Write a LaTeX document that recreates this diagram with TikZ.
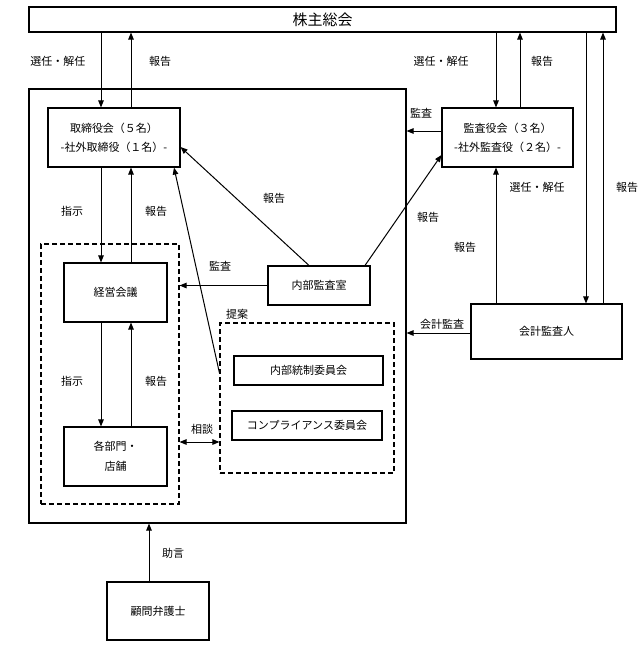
\documentclass[tikz,border=0pt]{standalone}
\usepackage{fontspec}
\setmainfont{Noto Sans CJK JP}
\usetikzlibrary{arrows.meta}
\begin{document}
\begin{tikzpicture}[x=1pt,y=-1pt,
 box/.style={draw,line width=1.1pt,inner sep=0pt,align=center,font=\fontsize{11}{19}\selectfont},
 dbox/.style={draw,dash pattern=on 5pt off 3pt,line width=1.1pt,inner sep=0pt},
 arr/.style={line width=1pt,-{Triangle[length=7pt,width=5.5pt]}},
 darr/.style={line width=1pt,{Triangle[length=7pt,width=5.5pt]}-{Triangle[length=7pt,width=5.5pt]}},
 lbl/.style={font=\fontsize{11}{13}\selectfont,inner sep=0pt}]
\useasboundingbox (0,0) rectangle (644,646);

% boxes
\node[box,minimum width=587pt,minimum height=25pt,font=\fontsize{15}{18}\selectfont] (top) at (322.5,19.5) {株主総会};
\node[box,minimum width=377pt,minimum height=434pt] (big) at (217.5,306) {};
\node[box,minimum width=132pt,minimum height=59pt] (tori) at (114,137.5) {取締役会（５名）\\-社外取締役（１名）-};
\node[dbox,minimum width=138pt,minimum height=260pt] (dashL) at (110,374) {};
\node[box,minimum width=103pt,minimum height=59pt] (keiei) at (115.5,292.5) {経営会議};
\node[box,minimum width=103pt,minimum height=59pt,font=\fontsize{11}{20}\selectfont] (kakubu) at (115.5,456.5) {各部門・\\店舗};
\node[box,minimum width=102pt,minimum height=39pt] (naibu) at (319,285.5) {内部監査室};
\node[dbox,minimum width=174pt,minimum height=150pt] (dashR) at (307,398) {};
\node[box,minimum width=149pt,minimum height=29pt] (tosei) at (308.5,370.5) {内部統制委員会};
\node[box,minimum width=150pt,minimum height=29pt] (comp) at (307,425.5) {コンプライアンス委員会};
\node[box,minimum width=131pt,minimum height=59pt] (kansa) at (507.5,137.5) {監査役会（３名）\\-社外監査役（２名）-};
\node[box,minimum width=151pt,minimum height=55pt] (kaikei) at (546.5,331.5) {会計監査人};
\node[box,minimum width=102pt,minimum height=58pt] (komon) at (158,611) {顧問弁護士};

% helper coordinates
\coordinate (x101) at (101,0);
\coordinate (x131) at (131,0);
\coordinate (x149) at (149,0);
\coordinate (x174) at (174,0);
\coordinate (x309) at (309,0);
\coordinate (x365) at (365,0);
\coordinate (x496) at (496,0);
\coordinate (x520) at (520,0);
\coordinate (x586) at (586,0);
\coordinate (x603) at (603,0);
\coordinate (y131) at (0,131);
\coordinate (y147) at (0,147);
\coordinate (y155) at (0,155);
\coordinate (y333) at (0,333);
\coordinate (y373) at (0,373);
\coordinate (y442) at (0,442);

% connectors
\draw[arr] (top.south -| x101) -- (tori.north -| x101);
\draw[arr] (tori.north -| x131) -- (top.south -| x131);
\draw[arr] (tori.south -| x101) -- (keiei.north -| x101);
\draw[arr] (keiei.north -| x131) -- (tori.south -| x131);
\draw[arr] (keiei.south -| x101) -- (kakubu.north -| x101);
\draw[arr] (kakubu.north -| x131) -- (keiei.south -| x131);
\draw[arr] (naibu.west) -- (naibu.west -| dashL.east);
\draw[arr] (naibu.north -| x309) -- (tori.east |- y147);
\draw[arr] (naibu.north -| x365) -- (kansa.west |- y155);
\draw[arr] (dashR.west |- y373) -- (tori.south -| x174);
\draw[darr] (dashL.east |- y442) -- (dashR.west |- y442);
\draw[arr] (top.south -| x496) -- (kansa.north -| x496);
\draw[arr] (kansa.north -| x520) -- (top.south -| x520);
\draw[arr] (kansa.west |- y131) -- (big.east |- y131);
\draw[arr] (kaikei.north -| x496) -- (kansa.south -| x496);
\draw[arr] (top.south -| x586) -- (kaikei.north -| x586);
\draw[arr] (kaikei.north -| x603) -- (top.south -| x603);
\draw[arr] (kaikei.west |- y333) -- (big.east |- y333);
\draw[arr] (komon.north -| x149) -- (big.south -| x149);

% labels
\node[lbl] (l1) at (58,61) {選任・解任};
\node[lbl] (l2) at (160,61) {報告};
\node[lbl] (l3) at (441,61) {選任・解任};
\node[lbl] (l4) at (542,61) {報告};
\node[lbl] (l5) at (421,113) {監査};
\node[lbl] (l6) at (72,211) {指示};
\node[lbl] (l7) at (156,211) {報告};
\node[lbl] (l8) at (72,381) {指示};
\node[lbl] (l9) at (156,381) {報告};
\node[lbl] (l10) at (220,266) {監査};
\node[lbl] (l11) at (274,198) {報告};
\node[lbl] (l12) at (428,217) {報告};
\node[lbl] (l13) at (537,187) {選任・解任};
\node[lbl] (l14) at (627,187) {報告};
\node[lbl] (l15) at (465,247) {報告};
\node[lbl] (l16) at (442,324) {会計監査};
\node[lbl] (l17) at (237,314) {提案};
\node[lbl] (l18) at (202,429) {相談};
\node[lbl] (l19) at (173,553) {助言};
\end{tikzpicture}
\end{document}
